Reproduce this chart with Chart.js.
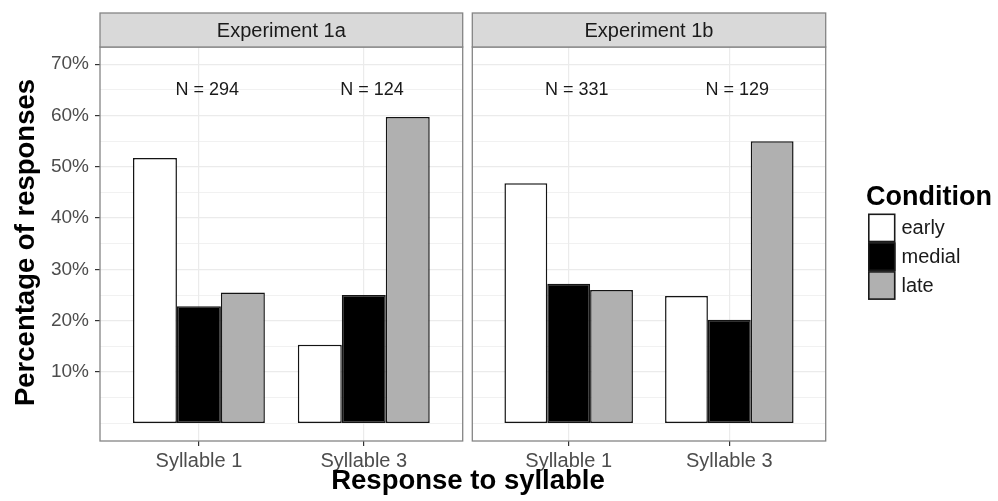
<!DOCTYPE html>
<html>
<head>
<meta charset="utf-8">
<script src="https://cdn.jsdelivr.net/npm/chart.js@4.4.1/dist/chart.umd.min.js"></script>
<style>
  html, body { margin: 0; padding: 0; background: #ffffff; }
  #wrap { position: relative; width: 998px; height: 501px; overflow: hidden; }
  #wrap canvas { position: absolute; left: 0; top: 0; }
</style>
</head>
<body>
<div id="wrap">
  <canvas id="panelA" width="998" height="501"></canvas>
  <canvas id="panelB" width="998" height="501"></canvas>
</div>
<script>
// ---- data ----
const categories = ['Syllable 1', 'Syllable 3'];
const conditions = ['early', 'medial', 'late'];
const conditionColors = ['#ffffff', '#000000', '#b0b0b0'];
const panelTitles = ['Experiment 1a', 'Experiment 1b'];

// percentage of responses per syllable, Experiment 1a
const exp1aEarly  = [51.7, 15.3];
const exp1aMedial = [22.8, 25.0];
const exp1aLate   = [25.5, 59.7];
// percentage of responses per syllable, Experiment 1b
const exp1bEarly  = [46.8, 24.8];
const exp1bMedial = [27.2, 20.2];
const exp1bLate   = [26.0, 55.0];

const exp1aCounts = ['N = 294', 'N = 124'];
const exp1bCounts = ['N = 331', 'N = 129'];
const countLabelLevel = 65;      // y value (in %) where the N labels sit
const countLabelShift = 0.05;    // x shift of the N labels, in category units

const yMajorTicks = [10, 20, 30, 40, 50, 60, 70];
const yMinorTicks = [0, 5, 15, 25, 35, 45, 55, 65];
const yRange = { min: -3.45, max: 73.35 };
const xRange = { min: 0.4, max: 2.6 };

const yTitle = 'Percentage of responses';
const xTitle = 'Response to syllable';
const legendTitle = 'Condition';

// ---- layout / style ----
const W = 998, H = 501;
const FONT = "'Liberation Sans', Arial, Helvetica, sans-serif";
const PANEL_TOP = 47, PANEL_BOTTOM = 441, STRIP_TOP = 13;
const panelBoxes = [{ left: 100, right: 462.7 }, { left: 472.3, right: 825.7 }];
const GRID = '#ebebeb';
const PANEL_BORDER = '#858585';
const TICK_MARK = '#333333';
const TICK_TEXT = '#4d4d4d';

const allYTicks = [...yMinorTicks, ...yMajorTicks].sort((a, b) => a - b);
const isMajor = (ctx) => !!(ctx.tick && yMajorTicks.includes(ctx.tick.value));

function buildDatasets(series) {
  return conditions.map((name, k) => ({
    label: name,
    data: series[k].map((v, i) => ({ x: i + 1, y: v })),
    backgroundColor: conditionColors[k],
    borderColor: '#141414',
    borderWidth: 1.5,
    borderSkipped: false,
    categoryPercentage: 0.8,
    barPercentage: 1.0
  }));
}

// panel frame, facet strip and the N annotations
function panelDecor(title, counts) {
  return {
    id: 'panelDecor',
    afterDatasetsDraw(chart) {
      const { ctx, chartArea: a, scales } = chart;
      ctx.save();
      // panel border
      ctx.strokeStyle = PANEL_BORDER;
      ctx.lineWidth = 1.3;
      ctx.strokeRect(a.left, a.top, a.right - a.left, a.bottom - a.top);
      // strip
      ctx.fillStyle = '#d9d9d9';
      ctx.fillRect(a.left, STRIP_TOP, a.right - a.left, a.top - STRIP_TOP);
      ctx.strokeRect(a.left, STRIP_TOP, a.right - a.left, a.top - STRIP_TOP);
      ctx.fillStyle = '#1a1a1a';
      ctx.font = '20px ' + FONT;
      ctx.textAlign = 'center';
      ctx.textBaseline = 'middle';
      ctx.fillText(title, (a.left + a.right) / 2, (STRIP_TOP + a.top) / 2 + 1);
      // N labels
      ctx.font = '18px ' + FONT;
      counts.forEach((txt, i) => {
        const x = scales.x.getPixelForValue(i + 1 + countLabelShift);
        const y = scales.y.getPixelForValue(countLabelLevel);
        ctx.fillText(txt, x, y);
      });
      ctx.restore();
    }
  };
}

// axis titles and the legend, shared by both panels
const outerDecor = {
  id: 'outerDecor',
  afterDraw(chart) {
    const { ctx } = chart;
    ctx.save();
    ctx.fillStyle = '#000000';
    ctx.font = 'bold 27.5px ' + FONT;
    ctx.textAlign = 'center';
    ctx.textBaseline = 'alphabetic';
    ctx.fillText(xTitle, 468, 489);
    ctx.save();
    ctx.translate(34, 242.5);
    ctx.rotate(-Math.PI / 2);
    ctx.font = 'bold 27.5px ' + FONT;
    ctx.fillText(yTitle, 0, 0);
    ctx.restore();

    // legend
    ctx.textAlign = 'left';
    ctx.font = 'bold 27px ' + FONT;
    ctx.fillText(legendTitle, 866, 205);
    const kx = 868, ky = 213.5, kw = 27.5, kh = 28.8;
    conditions.forEach((name, k) => {
      const y = ky + k * kh;
      ctx.fillStyle = conditionColors[k];
      ctx.fillRect(kx, y, kw, kh);
      ctx.strokeStyle = '#1a1a1a';
      ctx.lineWidth = 1.6;
      ctx.strokeRect(kx + 0.8, y + 0.8, kw - 1.6, kh - 1.6);
      ctx.fillStyle = '#1a1a1a';
      ctx.font = '20px ' + FONT;
      ctx.textBaseline = 'middle';
      ctx.fillText(name, kx + kw + 6, y + kh / 2 + 1);
    });
    ctx.restore();
  }
};

function makePanel(canvasId, idx, series, counts, showY, extraPlugins) {
  const box = panelBoxes[idx];
  return new Chart(document.getElementById(canvasId), {
    type: 'bar',
    data: { datasets: buildDatasets(series) },
    options: {
      responsive: false,
      animation: false,
      devicePixelRatio: 1,
      layout: {
        padding: {
          left: showY ? 0 : box.left,
          right: W - box.right,
          top: PANEL_TOP,
          bottom: 0
        }
      },
      plugins: { legend: { display: false }, tooltip: { enabled: false } },
      scales: {
        x: {
          type: 'linear',
          min: xRange.min,
          max: xRange.max,
          offset: false,
          afterBuildTicks: (s) => { s.ticks = categories.map((c, i) => ({ value: i + 1 })); },
          afterFit: (s) => { s.height = H - PANEL_BOTTOM; },
          ticks: {
            autoSkip: false,
            maxRotation: 0,
            minRotation: 0,
            padding: 3,
            color: TICK_TEXT,
            font: { family: FONT, size: 20 },
            callback: (v) => categories[Math.round(v) - 1]
          },
          grid: { offset: false, color: GRID, lineWidth: 1.2, tickColor: TICK_MARK, tickLength: 5 },
          border: { display: false }
        },
        y: {
          type: 'linear',
          min: yRange.min,
          max: yRange.max,
          afterBuildTicks: (s) => { s.ticks = allYTicks.map(v => ({ value: v })); },
          afterFit: (s) => { s.width = showY ? box.left : 0; },
          ticks: {
            display: showY,
            autoSkip: false,
            padding: 6,
            color: TICK_TEXT,
            font: { family: FONT, size: 19 },
            callback: (v) => (yMajorTicks.includes(v) ? v + '%' : '')
          },
          grid: {
            offset: false,
            color: GRID,
            lineWidth: (ctx) => (isMajor(ctx) ? 1.2 : 0.7),
            drawTicks: showY,
            tickLength: 5,
            tickColor: (ctx) => (isMajor(ctx) ? TICK_MARK : 'rgba(0,0,0,0)')
          },
          border: { display: false }
        }
      }
    },
    plugins: [panelDecor(panelTitles[idx], counts), ...extraPlugins]
  });
}

makePanel('panelA', 0, [exp1aEarly, exp1aMedial, exp1aLate], exp1aCounts, true, []);
makePanel('panelB', 1, [exp1bEarly, exp1bMedial, exp1bLate], exp1bCounts, false, [outerDecor]);
</script>
</body>
</html>
